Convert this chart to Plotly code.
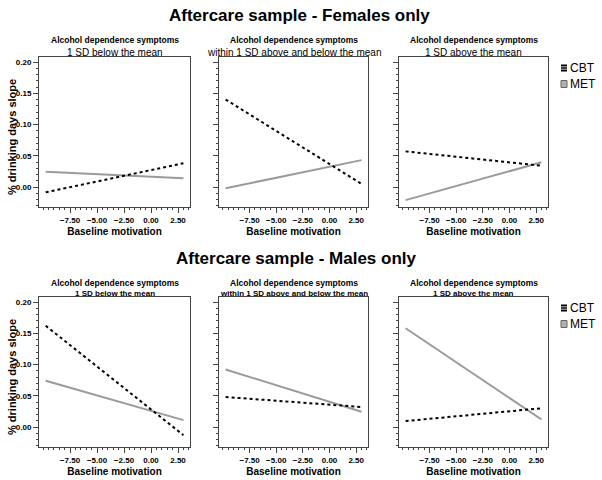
import plotly.graph_objects as go

# ---- data ----
x_ends = [-9.75, 3.0]
panel_titles = ["1 SD below the mean", "within 1 SD above and below the mean", "1 SD above the mean"]
row_titles = ["Aftercare sample - Females only", "Aftercare sample - Males only"]
series_names = ["CBT", "MET"]
fem_cbt = [[-0.0085, 0.038], [0.140, 0.005], [0.057, 0.034]]
fem_met = [[0.0245, 0.014], [-0.002, 0.043], [-0.021, 0.0395]]
male_cbt = [[0.162, -0.013], [0.048, 0.032], [0.0095, 0.030]]
male_met = [[0.074, 0.011], [0.092, 0.0245], [0.158, 0.012]]
x_ticks = [-7.5, -5.0, -2.5, 0.0, 2.5]
y_ticks = [0.0, 0.05, 0.10, 0.15, 0.20]
x_range = [-10.37, 3.61]
y_range = [-0.032, 0.208]

W, H = 602, 480
FONT = "Arial, Liberation Sans, sans-serif"
col_px = [(39, 190), (219, 368), (399, 548)]
row_px = [(57, 207), (297, 447)]


def px(x):
    return x / W


def py(y):
    return 1 - y / H


fig = go.Figure()
layout = dict(width=W, height=H, margin=dict(l=0, r=0, t=0, b=0, autoexpand=False),
              paper_bgcolor="white", plot_bgcolor="white", showlegend=False,
              font=dict(family=FONT, color="black"), annotations=[], shapes=[])

rows = [(fem_cbt, fem_met), (male_cbt, male_met)]
k = 0
for r, (cbt, met) in enumerate(rows):
    for c in range(3):
        k += 1
        xa = "x" if k == 1 else f"x{k}"
        ya = "y" if k == 1 else f"y{k}"
        fig.add_trace(go.Scatter(x=x_ends, y=met[c], mode="lines", xaxis=xa, yaxis=ya,
                                 name=series_names[1],
                                 line=dict(color="#9a9a9a", width=2)))
        fig.add_trace(go.Scatter(x=x_ends, y=cbt[c], mode="lines", xaxis=xa, yaxis=ya,
                                 name=series_names[0],
                                 line=dict(color="black", width=2, dash="dot")))
        x0, x1 = col_px[c]
        y0, y1 = row_px[r]
        axbase = dict(showline=True, mirror=True, linecolor="#444", linewidth=1,
                      showgrid=False, zeroline=False, ticks="outside", ticklen=5,
                      tickcolor="#444", tickformat=".2f", automargin=False,
                      tickfont=dict(family=FONT, size=8, weight="bold"))
        xdict = dict(axbase, domain=[px(x0), px(x1)], range=x_range, tickvals=x_ticks,
                     anchor=ya,
                     minor=dict(ticks="outside", ticklen=2, dtick=0.5, tick0=0, tickcolor="#444"),
                     title=dict(text="Baseline motivation", standoff=4,
                                font=dict(family=FONT, size=10, weight="bold")))
        ydict = dict(axbase, domain=[py(y1), py(y0)], range=y_range, tickvals=y_ticks,
                     anchor=xa, showticklabels=(c == 0),
                     minor=dict(ticks="outside", ticklen=2, dtick=0.01, tick0=0, tickcolor="#444"))
        layout["xaxis" if k == 1 else f"xaxis{k}"] = xdict
        layout["yaxis" if k == 1 else f"yaxis{k}"] = ydict
        if c == 0:
            layout["annotations"].append(dict(text="% drinking days slope", x=px(12),
                                              y=py((y0 + y1) / 2 + 5), xref="paper", yref="paper",
                                              showarrow=False, textangle=-90, xanchor="center",
                                              yanchor="middle", font=dict(size=11, weight="bold")))
        cx = px((x0 + x1) / 2)
        ya1, ya2 = (40, 52) if r == 0 else (283, 293)
        layout["annotations"].append(dict(text="Alcohol dependence symptoms", x=cx, y=py(ya1),
                                          xref="paper", yref="paper", showarrow=False,
                                          xanchor="center", yanchor="middle",
                                          font=dict(size=8.5, weight="bold")))
        f2 = dict(size=10) if r == 0 else dict(size=8, weight="bold")
        layout["annotations"].append(dict(text=panel_titles[c], x=cx, y=py(ya2),
                                          xref="paper", yref="paper", showarrow=False,
                                          xanchor="center", yanchor="middle", font=f2))

for r, (xt, yt) in enumerate([(299, 15), (296, 258)]):
    layout["annotations"].append(dict(text=row_titles[r], x=px(xt), y=py(yt), xref="paper",
                                      yref="paper", showarrow=False, xanchor="center",
                                      yanchor="middle", font=dict(size=17, weight="bold")))

# legends (one per row), drawn as swatch + label
for r, ly in enumerate([68, 308]):
    for j, name in enumerate(series_names):
        yc = ly + 16 * j
        layout["annotations"].append(dict(text=name, x=px(568), y=py(yc), xref="paper",
                                          yref="paper", showarrow=False, xanchor="left",
                                          yanchor="middle", font=dict(size=12)))
        if j == 0:
            layout["shapes"].append(dict(type="rect", xref="paper", yref="paper",
                                         x0=px(561), x1=px(567), y0=py(yc + 3.5), y1=py(yc - 3.5),
                                         fillcolor="black", line=dict(width=0)))
            for dy in (-1.2, 1.2):
                layout["shapes"].append(dict(type="line", xref="paper", yref="paper",
                                             x0=px(561), x1=px(567), y0=py(yc + dy), y1=py(yc + dy),
                                             line=dict(color="white", width=0.8)))
        else:
            layout["shapes"].append(dict(type="rect", xref="paper", yref="paper",
                                         x0=px(561), x1=px(567), y0=py(yc + 3.5), y1=py(yc - 3.5),
                                         fillcolor="#b0b0b0", line=dict(color="#666", width=1)))

fig.update_layout(**layout)
fig.write_html("out.html", config={"displayModeBar": False},
               post_script="document.body.style.margin='0';document.body.style.overflow='hidden';")
